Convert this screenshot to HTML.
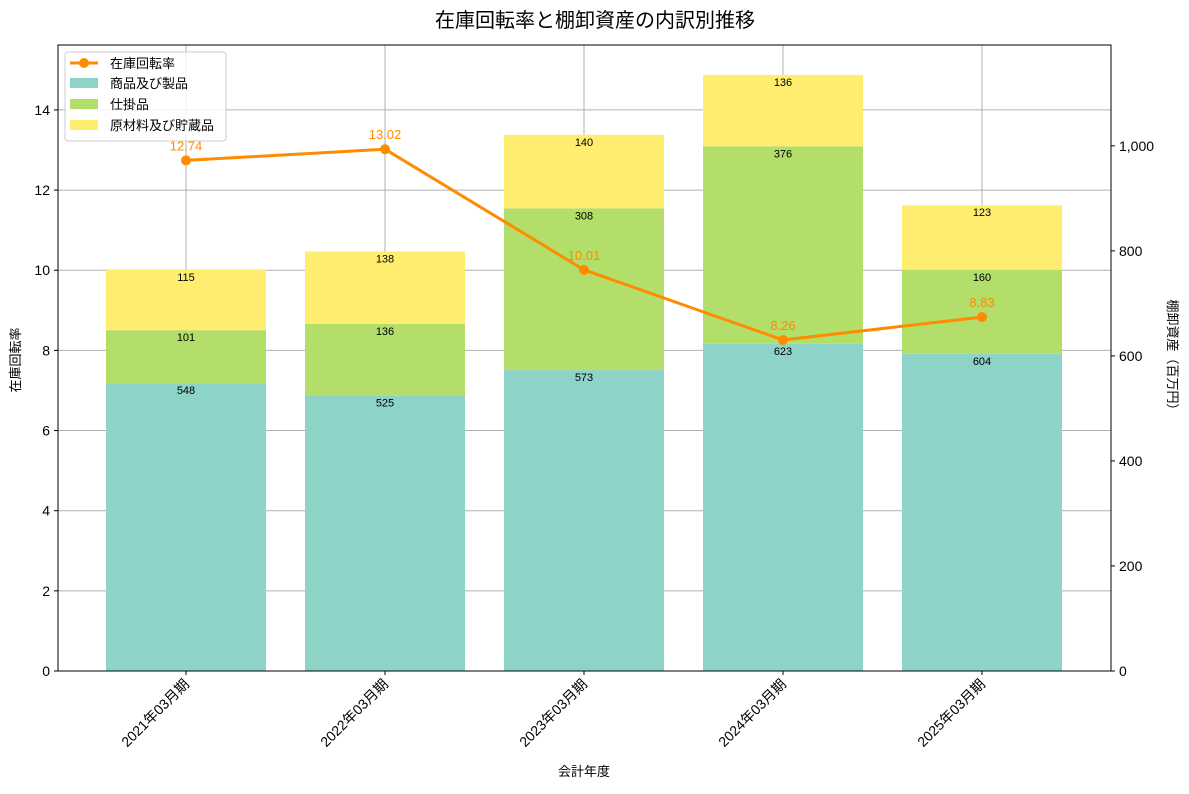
<!DOCTYPE html>
<html><head><meta charset="utf-8"><style>
body{margin:0;background:#fff;font-family:"Liberation Sans","Noto Sans CJK JP",sans-serif;}
svg text{font-family:"Liberation Sans","Noto Sans CJK JP",sans-serif;}
</style></head><body>
<svg id="c" width="1189" height="789" viewBox="0 0 1189 789" xmlns="http://www.w3.org/2000/svg">
<text x="595" y="27" text-anchor="middle" font-size="20" fill="#000">在庫回転率と棚卸資産の内訳別推移</text>
<g id="grid"></g><g id="bars"></g><g id="line"></g><g id="axes"></g><g id="legend"></g>
</svg>
<script>
const categories=["2021年03月期","2022年03月期","2023年03月期","2024年03月期","2025年03月期"];
const products=[548,525,573,623,604];
const wip=[101,136,308,376,160];
const materials=[115,138,140,136,123];
const turnover=[12.74,13.02,10.01,8.26,8.83];
const leftTicks=[0,2,4,6,8,10,12,14];
const rightTicks=[0,200,400,600,800,1000];
const L=58,R=1111,T=45,B=671;
const yL=v=>B-v*(B-T)/15.62;
const yR=v=>B-v*(B-T)/1192;
const xC=i=>186+i*199;
const bw=160;
const NS="http://www.w3.org/2000/svg";
function mk(tag,attrs,parent,text){const e=document.createElementNS(NS,tag);for(const k in attrs)e.setAttribute(k,attrs[k]);if(text!==undefined)e.textContent=text;document.getElementById(parent).appendChild(e);return e;}
// grid
leftTicks.forEach(t=>{const e=mk('line',{x1:L,x2:R,y1:yL(t),y2:yL(t),stroke:'#b0b0b0','stroke-width':1},'grid');

});
categories.forEach((c,i)=>{const e=mk('line',{x1:xC(i),x2:xC(i),y1:T,y2:B,stroke:'#b0b0b0','stroke-width':1},'grid');

});
// bars
const series=[[products,'#8dd3c7','products'],[wip,'#b3de69','wip'],[materials,'#ffed6f','materials']];
categories.forEach((c,i)=>{let base=0;series.forEach(([arr,col,nm])=>{const v=arr[i];const y0=yR(base),y1=yR(base+v);
const r=mk('rect',{x:xC(i)-bw/2,y:y1,width:bw,height:y0-y1,fill:col},'bars');


const t=mk('text',{x:xC(i),y:y1+11,'text-anchor':'middle','font-size':11,fill:'#000'},'bars',String(v));


base+=v;});});
// line
const pts=turnover.map((v,i)=>xC(i)+','+yL(v)).join(' ');
const pl=mk('polyline',{points:pts,fill:'none',stroke:'#ff8c00','stroke-width':3},'line');


turnover.forEach((v,i)=>{const p=mk('circle',{cx:xC(i),cy:yL(v),r:5,fill:'#ff8c00'},'line');


const t=mk('text',{x:xC(i),y:yL(v)-10,'text-anchor':'middle','font-size':13,fill:'#ff8c00'},'line',v.toFixed(2));

});
// axes
const fr=mk('rect',{x:L,y:T,width:R-L,height:B-T,fill:'none',stroke:'#000','stroke-width':1},'axes');


leftTicks.forEach(t=>{mk('line',{x1:L-4,x2:L,y1:yL(t),y2:yL(t),stroke:'#000'},'axes');
const e=mk('text',{x:L-8,y:yL(t)+5,'text-anchor':'end','font-size':14},'axes',String(t));

});
rightTicks.forEach(t=>{mk('line',{x1:R,x2:R+4,y1:yR(t),y2:yR(t),stroke:'#000'},'axes');
const e=mk('text',{x:R+8,y:yR(t)+5,'text-anchor':'start','font-size':14},'axes',t.toLocaleString('en-US'));

});
categories.forEach((c,i)=>{mk('line',{x1:xC(i),x2:xC(i),y1:B,y2:B+4,stroke:'#000'},'axes');
const e=mk('text',{x:xC(i)+4,y:B+14,'text-anchor':'end','font-size':14,transform:`rotate(-45 ${xC(i)+4} ${B+14})`},'axes',c);

});
let e=mk('text',{x:584,y:776,'text-anchor':'middle','font-size':13},'axes','会計年度');


e=mk('text',{x:0,y:0,'text-anchor':'middle','font-size':13,transform:'translate(20 360) rotate(-90)'},'axes','在庫回転率');


e=mk('text',{x:0,y:0,'text-anchor':'middle','font-size':13,transform:'translate(1168 358) rotate(90)'},'axes','棚卸資産（百万円）');


// legend
const lb=mk('rect',{x:65,y:52,width:161,height:89,fill:'#fff','fill-opacity':0.85,stroke:'#ccc',rx:3},'legend');


mk('line',{x1:70,x2:98,y1:63,y2:63,stroke:'#ff8c00','stroke-width':3},'legend');
mk('circle',{cx:84,cy:63,r:5,fill:'#ff8c00'},'legend');
e=mk('text',{x:110,y:68,'font-size':13},'legend','在庫回転率');


[['商品及び製品','#8dd3c7'],['仕掛品','#b3de69'],['原材料及び貯蔵品','#ffed6f']].forEach(([n,col],k)=>{const y=78+k*21;
mk('rect',{x:70,y:y,width:28,height:10,fill:col},'legend');
const t=mk('text',{x:110,y:y+10,'font-size':13},'legend',n);

});
</script>
</body></html>
